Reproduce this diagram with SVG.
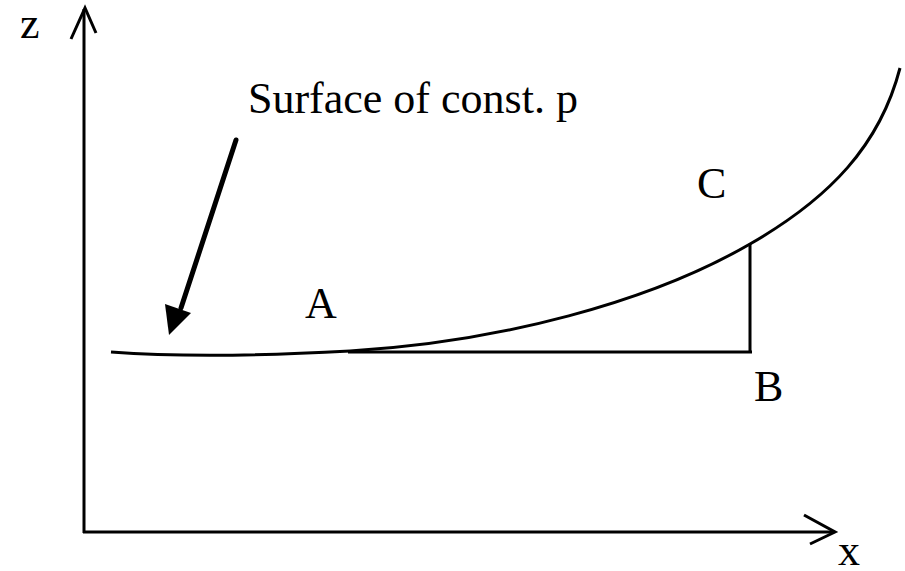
<svg xmlns="http://www.w3.org/2000/svg" width="905" height="571" viewBox="0 0 905 571">
<style>
.ln{fill:none;stroke:#000;stroke-width:3}
.t{font-family:"Liberation Serif",serif;font-size:44px;fill:#000}
</style>
<rect width="905" height="571" fill="#fff"/>
<g id="axes">
<path class="ln" d="M84,533 V9"/>
<path class="ln" d="M71,39 L85,8 L96,33"/>
<path class="ln" d="M83,532 H834"/>
<path class="ln" d="M804,515 L835,532 L810,544"/>
</g>
<g id="curve">
<path class="ln" d="M111,352 Q205,359 350,351 C500,342 650,302 750,244 C830,198 880,145 900,68"/>
</g>
<g id="triangle">
<path class="ln" d="M348,352 H752 M750,352 V244"/>
</g>
<g id="connectors">
<path d="M236,140 L181,308" fill="none" stroke="#000" stroke-width="5" stroke-linecap="round"/>
<polygon points="169,335 165,304 191,313" fill="#000"/>
</g>
<g id="labels">
<text class="t" x="20" y="38">z</text>
<text class="t" x="838" y="565">x</text>
<text class="t" x="248" y="113">Surface of const. p</text>
<text class="t" x="697" y="198">C</text>
<text class="t" x="305" y="318">A</text>
<text class="t" x="754" y="401">B</text>
</g>
</svg>
